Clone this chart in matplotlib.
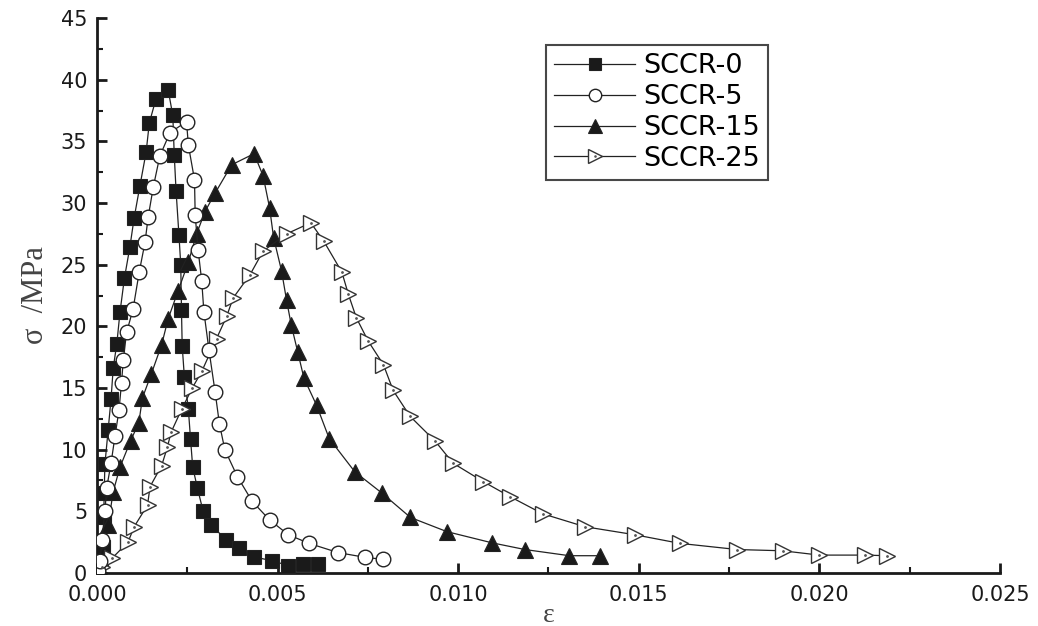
import matplotlib
matplotlib.use("Agg")
import matplotlib.pyplot as plt
from matplotlib.ticker import MultipleLocator, FormatStrFormatter
from matplotlib.legend_handler import HandlerTuple

# ---- data ----
eps0 = [0.0, 0.00010, 0.00017, 0.00019, 0.00020, 0.00022, 0.00031, 0.00039, 0.00045,
        0.00055, 0.00064, 0.00076, 0.00091, 0.00103, 0.00119, 0.00136, 0.00145, 0.00163,
        0.00197, 0.00210, 0.00214, 0.00219, 0.00227, 0.00232, 0.00234, 0.00236, 0.00242,
        0.00253, 0.00259, 0.00265, 0.00278, 0.00294, 0.00316, 0.00357, 0.00394, 0.00435,
        0.00484, 0.00530, 0.00570, 0.00613]
sig0 = [0.0, 1.0, 2.1, 4.5, 6.5, 8.8, 11.6, 14.1, 16.6,
        18.6, 21.2, 23.9, 26.4, 28.8, 31.4, 34.1, 36.5, 38.4,
        39.2, 37.1, 33.9, 31.0, 27.4, 25.0, 21.3, 18.4, 15.9,
        13.3, 10.9, 8.6, 6.9, 5.0, 3.9, 2.7, 2.05, 1.3,
        1.0, 0.6, 0.75, 0.75]

eps5 = [0.00003, 0.00008, 0.00014, 0.00022, 0.00027, 0.00039, 0.00050, 0.00061, 0.00068,
        0.00073, 0.00082, 0.00100, 0.00117, 0.00133, 0.00142, 0.00156, 0.00174, 0.00202,
        0.00248, 0.00253, 0.00270, 0.00272, 0.00280, 0.00290, 0.00296, 0.00310, 0.00327,
        0.00339, 0.00354, 0.00389, 0.00430, 0.00478, 0.00530, 0.00587, 0.00668, 0.00742,
        0.00793]
sig5 = [0.2, 1.0, 2.7, 5.0, 6.9, 8.9, 11.1, 13.2, 15.4,
        17.3, 19.5, 21.4, 24.4, 26.8, 28.9, 31.3, 33.8, 35.7,
        36.6, 34.7, 31.9, 29.0, 26.2, 23.7, 21.2, 18.1, 14.7,
        12.1, 10.0, 7.8, 5.8, 4.3, 3.1, 2.4, 1.65, 1.27,
        1.1]

eps15 = [0.00002, 0.00008, 0.00017, 0.00031, 0.00045, 0.00064, 0.00093, 0.00116, 0.00126,
         0.00150, 0.00179, 0.00197, 0.00225, 0.00253, 0.00276, 0.00299, 0.00327, 0.00373,
         0.00435, 0.00460, 0.00478, 0.00489, 0.00511, 0.00525, 0.00538, 0.00556, 0.00573,
         0.00608, 0.00643, 0.00714, 0.00788, 0.00868, 0.00969, 0.01093, 0.01185, 0.01308,
         0.01393]
sig15 = [0.0, 0.3, 1.5, 3.9, 6.6, 8.6, 10.7, 12.2, 14.2,
         16.1, 18.5, 20.6, 22.9, 25.2, 27.5, 29.3, 30.8, 33.1,
         34.0, 32.2, 29.6, 27.2, 24.5, 22.1, 20.1, 17.9, 15.8,
         13.6, 10.9, 8.2, 6.5, 4.5, 3.35, 2.45, 1.9, 1.4,
         1.4]

eps25 = [0.00013, 0.00042, 0.00086, 0.00103, 0.00140, 0.00147, 0.00179, 0.00195, 0.00205,
         0.00235, 0.00264, 0.00291, 0.00331, 0.00359, 0.00377, 0.00424, 0.00460, 0.00525,
         0.00592, 0.00628, 0.00678, 0.00696, 0.00718, 0.00751, 0.00793, 0.00820, 0.00867,
         0.00936, 0.00986, 0.01070, 0.01143, 0.01234, 0.01351, 0.01489, 0.01614, 0.01773,
         0.01898, 0.02000, 0.02126, 0.02188]
sig25 = [0.5, 1.2, 2.5, 3.75, 5.5, 7.0, 8.7, 10.2, 11.4,
         13.3, 15.0, 16.4, 19.0, 20.8, 22.3, 24.2, 26.1, 27.5,
         28.4, 26.9, 24.4, 22.6, 20.7, 18.8, 16.9, 14.8, 12.7,
         10.7, 8.9, 7.4, 6.2, 4.8, 3.75, 3.1, 2.4, 1.9,
         1.8, 1.45, 1.45, 1.4]

labels = ["SCCR-0", "SCCR-5", "SCCR-15", "SCCR-25"]
x_ticks = [0.000, 0.005, 0.010, 0.015, 0.020, 0.025]
y_ticks = [0, 5, 10, 15, 20, 25, 30, 35, 40, 45]

# ---- figure ----
plt.rcParams['font.family'] = ['DejaVu Sans']
fig = plt.figure(figsize=(10.38, 6.26), dpi=100)
ax = fig.add_axes([0.0934, 0.0847, 0.870, 0.8865])

lw = 0.9
mec = '#222222'
l0, = ax.plot(eps0, sig0, '-', color='#222222', lw=lw, marker='s', ms=9.5,
              mfc='#1a1a1a', mec=mec, mew=0.8, label=labels[0], zorder=3)
l5, = ax.plot(eps5, sig5, '-', color='#222222', lw=lw, marker='o', ms=10.5,
              mfc='white', mec=mec, mew=1.0, label=labels[1], zorder=4)
l15, = ax.plot(eps15, sig15, '-', color='#222222', lw=lw, marker='^', ms=11.5,
               mfc='#1a1a1a', mec=mec, mew=0.8, label=labels[2], zorder=3)
l25, = ax.plot(eps25, sig25, '-', color='#222222', lw=lw, marker='>', ms=12,
               mfc='white', mec='#333333', mew=1.0, label=labels[3], zorder=3)
d25, = ax.plot(eps25, sig25, linestyle='none', marker='o', ms=1.0,
               mfc='#555555', mec='#555555', zorder=4)

ax.set_xlim(0, 0.025)
ax.set_ylim(0, 45)
ax.set_xticks(x_ticks)
ax.set_yticks(y_ticks)
ax.xaxis.set_major_formatter(FormatStrFormatter('%.3f'))
ax.xaxis.set_minor_locator(MultipleLocator(0.0025))
ax.yaxis.set_minor_locator(MultipleLocator(2.5))

for s in ['top', 'right']:
    ax.spines[s].set_visible(False)
for s in ['left', 'bottom']:
    ax.spines[s].set_linewidth(2.0)
    ax.spines[s].set_color('#1a1a1a')

ax.tick_params(axis='both', which='major', direction='in', length=7, width=2.0,
               labelsize=15, colors='#1a1a1a')
ax.tick_params(axis='y', which='major', pad=7)
ax.tick_params(axis='x', which='major', pad=9)
ax.tick_params(axis='both', which='minor', direction='in', length=4, width=1.5,
               colors='#1a1a1a')

ax.set_xlabel('ε', fontsize=20, family=['Liberation Serif', 'DejaVu Serif'],
              color='#444444', labelpad=-2)
ax.set_ylabel('σ  /MPa', fontsize=22, family=['Liberation Serif', 'DejaVu Serif'],
              color='#444444', labelpad=8)

leg = ax.legend([l0, l5, l15, (l25, d25)], labels,
                handler_map={tuple: HandlerTuple(ndivide=1)},
                loc='upper left', bbox_to_anchor=(0.497, 0.951),
                fontsize=19.5, frameon=True, fancybox=False, handlelength=3.0,
                handletextpad=0.3, borderpad=0.3, labelspacing=0.18,
                borderaxespad=0.0, markerscale=0.85)
leg.get_frame().set_edgecolor('#1a1a1a')
leg.get_frame().set_linewidth(1.5)

fig.savefig('out.png', dpi=100)
